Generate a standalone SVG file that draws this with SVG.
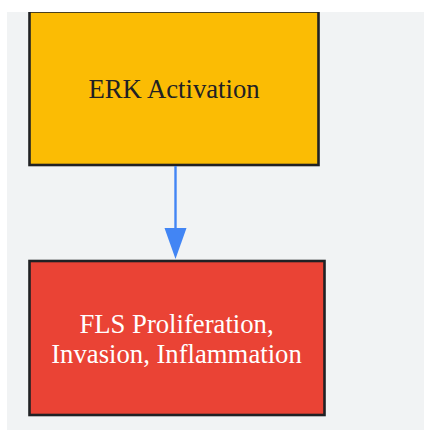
<svg xmlns="http://www.w3.org/2000/svg" width="424" height="431" viewBox="0 0 424 431">
  <style>
    .node rect { stroke: #202124; stroke-width: 2.6; }
    .label { font-family: "Liberation Serif", "Times New Roman", serif; font-size: 26.7px; text-anchor: middle; }
    .edge { stroke: #4285F4; stroke-width: 2.4; fill: none; }
  </style>
  <defs>
    <clipPath id="bg"><rect x="7" y="12" width="417" height="418"/></clipPath>
  </defs>
  <rect x="0" y="0" width="424" height="431" fill="#ffffff"/>
  <rect x="7" y="12" width="417" height="418" fill="#F1F3F4"/>
  <g clip-path="url(#bg)">
    <g id="erk" class="node">
      <rect x="29.5" y="11.5" width="289" height="153.5" fill="#FBBC04"/>
      <text class="label" x="174" y="98" fill="#202124">ERK Activation</text>
    </g>
    <g id="connectors">
      <line class="edge" x1="175.5" y1="166" x2="175.5" y2="230"/>
      <polygon points="164.5,228 186.5,228 175.5,259" fill="#4285F4"/>
    </g>
    <g id="fls" class="node">
      <rect x="29.5" y="261" width="295" height="154" fill="#EA4335"/>
      <text class="label" x="176.5" y="333" fill="#ffffff">FLS Proliferation,</text>
      <text class="label" x="176.5" y="362.5" fill="#ffffff">Invasion, Inflammation</text>
    </g>
  </g>
</svg>
